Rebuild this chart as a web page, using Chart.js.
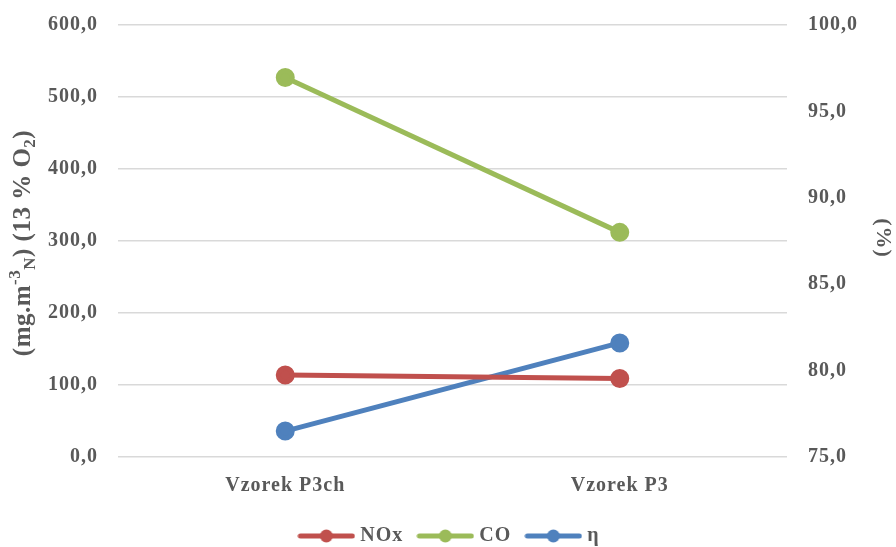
<!DOCTYPE html>
<html><head><meta charset="utf-8">
<script src="https://cdn.jsdelivr.net/npm/chart.js@4/dist/chart.umd.min.js"></script>
<style>html,body{margin:0;padding:0;background:#fff}#w{width:896px;height:547px}</style>
</head><body><div id="w"><canvas id="c"></canvas></div>
<script>
const categories = ["Vzorek P3ch", "Vzorek P3"];
const noxValues = [114.0, 109.0];
const coValues = [527.0, 312.0];
const etaValues = [76.5, 81.6];
const leftTicks = [0, 100, 200, 300, 400, 500, 600];
const rightTicks = [75, 80, 85, 90, 95, 100];

const FONT = "'Liberation Serif', 'Times New Roman', serif";
const TXT = '#595959';
const colors = {nox:'#C0504D', co:'#9BBB59', eta:'#4F81BD'};

function legendIcon(col){
  const c = document.createElement('canvas');
  c.width = 58; c.height = 16;
  const g = c.getContext('2d');
  g.strokeStyle = col; g.lineWidth = 5; g.lineCap = 'round';
  g.beginPath(); g.moveTo(3,8); g.lineTo(55,8); g.stroke();
  g.fillStyle = col; g.beginPath(); g.arc(29,8,6.5,0,Math.PI*2); g.fill();
  return c;
}

const fmt = v => v.toFixed(1).replace('.', ',');

const spacingPlugin = {
  id:'spacing',
  beforeDraw(chart){ try { chart.ctx.letterSpacing = '1px'; } catch(e){} }
};

const titlePlugin = {
  id:'titles',
  afterDraw(chart){
    const ctx = chart.ctx;
    ctx.save();
    try { ctx.letterSpacing = '0.5px'; } catch(e){}
    ctx.fillStyle = TXT;
    const parts = [
      {t:'(mg.m', s:25, dy:0},
      {t:'-3', s:17, dy:-8},
      {t:'N', s:17, dy:7},
      {t:') (13 % O', s:25, dy:0},
      {t:'2', s:17, dy:7},
      {t:')', s:25, dy:0}
    ];
    let total = 0;
    parts.forEach(p=>{ctx.font = 'bold '+p.s+'px '+FONT; p.w = ctx.measureText(p.t).width; total += p.w;});
    ctx.translate(24, 243);
    ctx.rotate(-Math.PI/2);
    ctx.textBaseline = 'middle';
    ctx.textAlign = 'left';
    let x = -total/2;
    parts.forEach(p=>{ctx.font='bold '+p.s+'px '+FONT; ctx.fillText(p.t, x, p.dy); x += p.w;});
    ctx.restore();
    ctx.save();
    ctx.fillStyle = TXT;
    ctx.font = 'bold 22px '+FONT;
    ctx.translate(883, 238);
    ctx.rotate(Math.PI/2);
    ctx.textAlign='center'; ctx.textBaseline='middle';
    ctx.fillText('(%)', 0, 0);
    ctx.restore();
  }
};

const tickFont = {family:FONT, size:20, weight:'bold'};
function noPad(s){ s.paddingTop = 0; s.paddingBottom = 0; }

new Chart(document.getElementById('c'), {
  type:'line',
  data:{
    labels: categories,
    datasets:[
      {label:'NOx', data:noxValues, yAxisID:'y', borderColor:colors.nox, backgroundColor:colors.nox, pointBackgroundColor:colors.nox, borderWidth:5, pointRadius:7, pointHoverRadius:7},
      {label:'CO', data:coValues, yAxisID:'y', borderColor:colors.co, backgroundColor:colors.co, pointBackgroundColor:colors.co, borderWidth:5, pointRadius:7, pointHoverRadius:7},
      {label:'η', data:etaValues, yAxisID:'y1', borderColor:colors.eta, backgroundColor:colors.eta, pointBackgroundColor:colors.eta, borderWidth:5, pointRadius:7, pointHoverRadius:7}
    ]
  },
  options:{
    responsive:true, maintainAspectRatio:false, animation:false,
    layout:{padding:{top:25, left:0, right:0, bottom:-9}},
    elements:{point:{pointStyle:'circle', borderWidth:0}, line:{tension:0}},
    plugins:{
      tooltip:{enabled:false},
      legend:{
        position:'bottom',
        labels:{
          usePointStyle:true, pointStyleWidth:48, boxHeight:16,
          color:TXT, font:{family:FONT, size:20, weight:'bold'}, padding:18,
          generateLabels(chart){
            return chart.data.datasets.map((d,i)=>({
              text:d.label, fillStyle:d.borderColor, strokeStyle:d.borderColor,
              lineWidth:0, pointStyle:legendIcon(d.borderColor), datasetIndex:i, hidden:false, fontColor:TXT
            }));
          }
        }
      }
    },
    scales:{
      x:{
        offset:true,
        afterFit(s){ s.height = 51; s.paddingLeft = 0; s.paddingRight = 0; },
        grid:{display:false, drawTicks:false},
        border:{display:false},
        ticks:{color:TXT, font:tickFont, padding:17},
      },
      y:{
        position:'left', min:0, max:600,
        afterBuildTicks(s){ s.ticks = leftTicks.map(v=>({value:v})); },
        afterFit(s){ s.width = 118; noPad(s); },
        grid:{color:'#D9D9D9', lineWidth:1.5, drawTicks:false},
        border:{display:false},
        ticks:{color:TXT, font:tickFont, padding:20, callback:v=>fmt(v)}
      },
      y1:{
        position:'right', min:75, max:100,
        afterBuildTicks(s){ s.ticks = rightTicks.map(v=>({value:v})); },
        afterFit(s){ s.width = 109; noPad(s); },
        grid:{display:false, drawTicks:false},
        border:{display:false},
        ticks:{color:TXT, font:tickFont, padding:21, callback:v=>fmt(v)}
      }
    }
  },
  plugins:[spacingPlugin, titlePlugin]
});
</script></body></html>
